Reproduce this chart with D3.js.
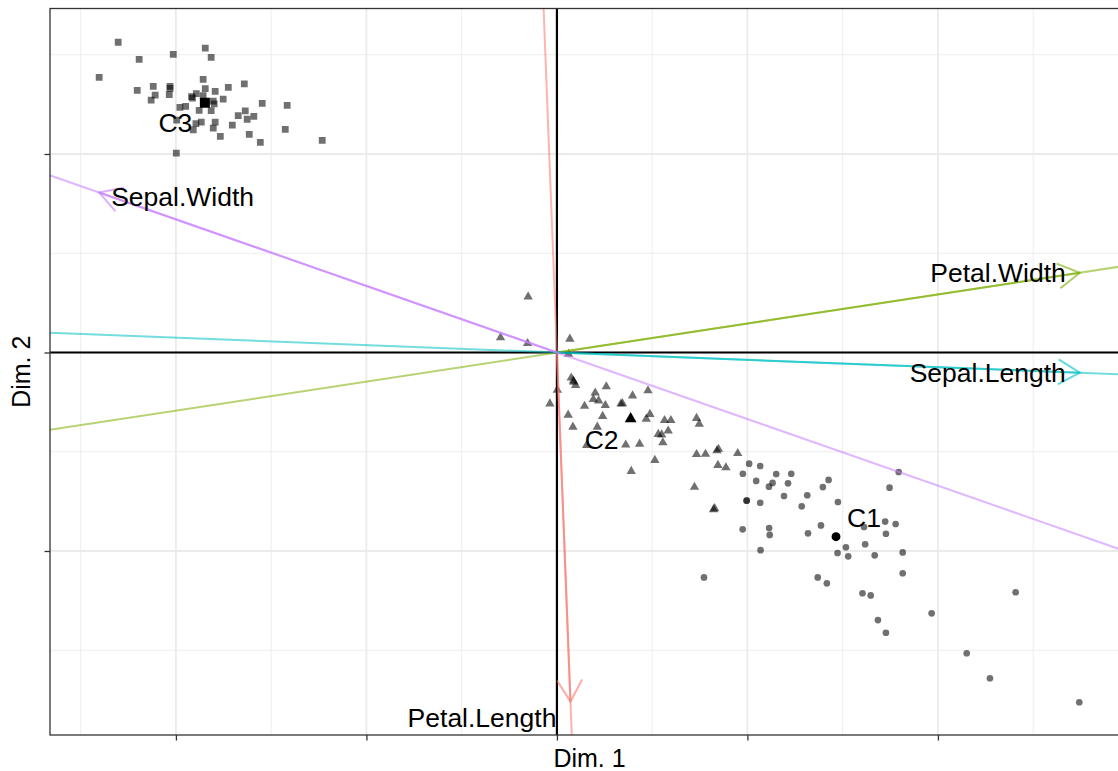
<!DOCTYPE html>
<html>
<head>
<meta charset="utf-8">
<script src="https://cdn.jsdelivr.net/npm/d3@7"></script>
<style>
  html, body { margin: 0; padding: 0; background: #fff; }
  svg text { font-family: 'Liberation Sans', Arial, Helvetica, sans-serif; }
</style>
</head>
<body>
<div id="chart"></div>
<script>
// cluster members, [dim1, dim2]
const cluster3 = [
  [-2.303, 1.563], [-1.846, 1.533], [-2.014, 1.502], [-1.815, 1.487], [-2.193, 1.477],
  [-2.403, 1.386], [-1.857, 1.376], [-1.641, 1.353], [-2.119, 1.341], [-2.031, 1.341],
  [-2.031, 1.330], [-1.725, 1.336], [-2.203, 1.321], [-1.846, 1.329], [-1.794, 1.316],
  [-2.035, 1.299], [-2.109, 1.297], [-2.130, 1.271], [-1.918, 1.289], [-1.913, 1.282],
  [-1.893, 1.304], [-1.857, 1.294], [-1.752, 1.276], [-1.804, 1.266], [-1.799, 1.252],
  [-1.547, 1.255], [-1.416, 1.245], [-1.979, 1.235], [-1.949, 1.240], [-1.878, 1.220],
  [-1.815, 1.218], [-1.636, 1.217], [-1.673, 1.193], [-1.591, 1.190], [-1.626, 1.175],
  [-1.867, 1.161], [-1.794, 1.161], [-1.895, 1.153], [-1.704, 1.145], [-1.909, 1.121],
  [-1.804, 1.130], [-1.426, 1.124], [-1.767, 1.089], [-1.615, 1.099], [-1.557, 1.059],
  [-1.232, 1.069], [-1.998, 1.004], [-1.996, 1.171]
]

const cluster2 = [
  [-0.151, 0.281], [-0.296, 0.075], [-0.154, 0.046], [0.068, 0.068], [0.061, -0.008],
  [0.075, -0.128], [0.086, -0.142], [0.089, -0.149], [0.098, -0.165], [0.002, -0.189],
  [-0.037, -0.258], [0.201, -0.203], [0.259, -0.172], [0.191, -0.236], [0.219, -0.243],
  [0.254, -0.266], [0.145, -0.270], [0.336, -0.259], [0.344, -0.257], [0.397, -0.218],
  [0.478, -0.192], [0.059, -0.315], [0.240, -0.321], [0.469, -0.335], [0.488, -0.311],
  [0.084, -0.375], [0.212, -0.375], [0.565, -0.342], [0.598, -0.342], [0.532, -0.412],
  [0.550, -0.414], [0.584, -0.395], [0.556, -0.454], [0.361, -0.465], [0.434, -0.461],
  [0.156, -0.468], [0.514, -0.543], [0.390, -0.598], [0.733, -0.331], [0.747, -0.360],
  [0.733, -0.513], [0.780, -0.512], [0.848, -0.487], [0.840, -0.494], [0.845, -0.568],
  [0.949, -0.508], [0.887, -0.580], [0.722, -0.678], [0.828, -0.786], [0.822, -0.791]
]

const cluster1 = [
  [1.009, -0.560], [1.067, -0.572], [0.976, -0.611], [1.151, -0.612], [1.230, -0.611],
  [1.046, -0.647], [1.132, -0.657], [1.113, -0.676], [1.213, -0.659], [1.426, -0.642],
  [1.396, -0.678], [1.794, -0.602], [1.746, -0.681], [0.997, -0.745], [0.995, -0.747],
  [1.067, -0.757], [1.192, -0.723], [1.314, -0.719], [1.285, -0.775], [1.475, -0.753],
  [0.975, -0.891], [1.114, -0.884], [1.117, -0.919], [1.318, -0.911], [1.386, -0.871],
  [1.612, -0.879], [1.723, -0.852], [1.778, -0.864], [1.727, -0.913], [1.618, -0.966],
  [1.517, -0.981], [1.473, -1.010], [1.529, -1.027], [1.668, -1.022], [1.815, -1.007],
  [1.069, -0.996], [1.815, -1.112], [0.772, -1.133], [1.369, -1.133], [1.417, -1.163],
  [1.604, -1.213], [1.647, -1.224], [2.408, -1.208], [1.967, -1.314], [1.685, -1.348],
  [1.727, -1.412], [2.151, -1.515], [2.273, -1.641], [2.742, -1.762]
]

const clusterNames = ['C1', 'C2', 'C3']
const centers = [[1.465, -0.928], [0.387, -0.334], [-1.848, 1.258]]

const variables = ['Petal.Length', 'Petal.Width', 'Sepal.Length', 'Sepal.Width']
const loadings = [[0.071, -1.759], [2.745, 0.402], [2.745, -0.102], [-2.403, 0.806]]
const varColors = ['#F8766D', '#7CAE00', '#00BFC4', '#C77CFF']

const xDomain = [-2.661, 3.003]
const yDomain = [-1.927, 1.733]
const xMajor = [-2, -1, 0, 1, 2, 3]
const xMinor = [-2.5, -1.5, -0.5, 0.5, 1.5, 2.5]
const yMajor = [-1, 0, 1]
const yMinor = [-1.5, -0.5, 0.5, 1.5]

;(function() {
  const chartWidth = 1118
  const chartHeight = 771
  const panel = { left: 50, right: 1129, top: 8.5, bottom: 735 }
  const fontSize = 26.5

  const svg = d3.select('#chart')
    .append('svg')
      .attr('width', chartWidth)
      .attr('height', chartHeight)

  const x = d3.scaleLinear().domain(xDomain).range([panel.left, panel.right])
  const y = d3.scaleLinear().domain(yDomain).range([panel.bottom, panel.top])

  svg.append('clipPath')
      .attr('id', 'panel-clip')
    .append('rect')
      .attr('x', panel.left)
      .attr('y', panel.top)
      .attr('width', panel.right - panel.left)
      .attr('height', panel.bottom - panel.top)

  const plot = svg.append('g').attr('clip-path', 'url(#panel-clip)')

  // grid
  const grid = plot.append('g').attr('stroke', '#ebebeb').attr('fill', 'none')
  grid.selectAll('.vminor').data(xMinor).enter().append('line')
      .attr('x1', d => x(d)).attr('x2', d => x(d))
      .attr('y1', panel.top).attr('y2', panel.bottom)
      .attr('stroke-width', 0.9)
  grid.selectAll('.hminor').data(yMinor).enter().append('line')
      .attr('y1', d => y(d)).attr('y2', d => y(d))
      .attr('x1', panel.left).attr('x2', panel.right)
      .attr('stroke-width', 0.9)
  grid.selectAll('.vmajor').data(xMajor).enter().append('line')
      .attr('x1', d => x(d)).attr('x2', d => x(d))
      .attr('y1', panel.top).attr('y2', panel.bottom)
      .attr('stroke-width', 1.8)
  grid.selectAll('.hmajor').data(yMajor).enter().append('line')
      .attr('y1', d => y(d)).attr('y2', d => y(d))
      .attr('x1', panel.left).attr('x2', panel.right)
      .attr('stroke-width', 1.8)

  // points
  const shapes = [
    { pts: cluster1, type: d3.symbolCircle, size: 35, big: 62 },
    { pts: cluster2, type: d3.symbolTriangle, size: 38, big: 60 },
    { pts: cluster3, type: d3.symbolSquare, size: 46, big: 100 }
  ]

  shapes.forEach((s, i) => {
    plot.append('g')
      .selectAll('path')
      .data(s.pts)
      .enter()
      .append('path')
        .attr('d', d3.symbol().type(s.type).size(s.size))
        .attr('transform', d => `translate(${x(d[0])}, ${y(d[1])})`)
        .attr('fill', '#000')
        .attr('fill-opacity', 0.56)

    plot.append('path')
      .attr('d', d3.symbol().type(s.type).size(s.big))
      .attr('transform', `translate(${x(centers[i][0])}, ${y(centers[i][1])})`)
      .attr('fill', '#000')
  })

  // zero lines
  plot.append('line')
    .attr('x1', panel.left).attr('x2', panel.right)
    .attr('y1', y(0)).attr('y2', y(0))
    .attr('stroke', '#000').attr('stroke-width', 2.2)
  plot.append('line')
    .attr('x1', x(0)).attr('x2', x(0))
    .attr('y1', panel.top).attr('y2', panel.bottom)
    .attr('stroke', '#000').attr('stroke-width', 2.2)

  // variable axes through the origin, then arrows
  loadings.forEach((v, i) => {
    const k = 5
    plot.append('line')
      .attr('x1', x(-v[0] * k)).attr('y1', y(-v[1] * k))
      .attr('x2', x(v[0] * k)).attr('y2', y(v[1] * k))
      .attr('stroke', varColors[i])
      .attr('stroke-width', 2)
      .attr('stroke-opacity', 0.55)

    const tx = x(v[0])
    const ty = y(v[1])
    const back = Math.atan2(y(0) - ty, x(0) - tx)
    const len = 25
    const spread = Math.PI / 6
    const head = d3.line()([
      [tx + len * Math.cos(back + spread), ty + len * Math.sin(back + spread)],
      [tx, ty],
      [tx + len * Math.cos(back - spread), ty + len * Math.sin(back - spread)]
    ])

    const arrow = plot.append('g')
      .attr('stroke', varColors[i])
      .attr('stroke-width', 2)
      .attr('stroke-opacity', 0.6)
      .attr('fill', 'none')
    arrow.append('line')
      .attr('x1', x(0)).attr('y1', y(0))
      .attr('x2', tx).attr('y2', ty)
    arrow.append('path')
      .attr('d', head)
  })

  // labels, nudged like the repelled labels in the picture
  const varNudge = [
    { dx: -14, dy: 25, anchor: 'end' },
    { dx: -14, dy: 9, anchor: 'end' },
    { dx: -14, dy: 9.3, anchor: 'end' },
    { dx: 12, dy: 13, anchor: 'start' }
  ]
  variables.forEach((name, i) => {
    svg.append('text')
      .attr('x', x(loadings[i][0]) + varNudge[i].dx)
      .attr('y', y(loadings[i][1]) + varNudge[i].dy)
      .attr('text-anchor', varNudge[i].anchor)
      .attr('font-size', fontSize)
      .text(name)
  })

  const clusterNudge = [{ dx: 28, dy: -9.4 }, { dx: -29, dy: 30.3 }, { dx: -29.5, dy: 29 }]
  clusterNames.forEach((name, i) => {
    svg.append('text')
      .attr('x', x(centers[i][0]) + clusterNudge[i].dx)
      .attr('y', y(centers[i][1]) + clusterNudge[i].dy)
      .attr('text-anchor', 'middle')
      .attr('font-size', fontSize)
      .text(name)
  })

  // panel border
  svg.append('rect')
    .attr('x', panel.left)
    .attr('y', panel.top)
    .attr('width', panel.right - panel.left)
    .attr('height', panel.bottom - panel.top)
    .attr('fill', 'none')
    .attr('stroke', '#333')
    .attr('stroke-width', 1.3)

  // axes: ticks only, no tick labels
  svg.append('g')
    .attr('transform', `translate(0, ${panel.bottom})`)
    .call(d3.axisBottom(x).tickValues(xMajor).tickSize(5.5).tickFormat(''))
    .call(g => g.select('.domain').remove())
    .call(g => g.selectAll('line').attr('stroke', '#333').attr('stroke-width', 1.3))

  svg.append('g')
    .attr('transform', `translate(${panel.left}, 0)`)
    .call(d3.axisLeft(y).tickValues(yMajor).tickSize(5.5).tickFormat(''))
    .call(g => g.select('.domain').remove())
    .call(g => g.selectAll('line').attr('stroke', '#333').attr('stroke-width', 1.3))

  svg.append('text')
    .attr('x', (panel.left + panel.right) / 2)
    .attr('y', 767)
    .attr('text-anchor', 'middle')
    .attr('font-size', 25)
    .text('Dim. 1')

  svg.append('text')
    .attr('transform', `translate(30, ${(panel.top + panel.bottom) / 2}) rotate(-90)`)
    .attr('text-anchor', 'middle')
    .attr('font-size', 25)
    .text('Dim. 2')
})()
</script>
</body>
</html>
